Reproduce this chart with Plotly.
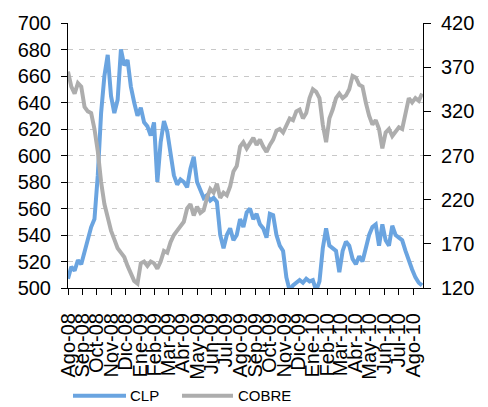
import pandas as pd
import plotly.graph_objects as go

# Weekly observations (Friday), Aug-2008 .. Aug-2010
dates = pd.date_range("2008-08-01", periods=108, freq="7D")

clp = [507, 516, 513, 521, 518, 528, 535, 546, 552, 585,
       632, 660, 676, 645, 632, 642, 680, 668, 672, 652,
       640, 630, 636, 625, 622, 615, 625, 580, 610, 626,
       618, 600, 585, 578, 582, 580, 576, 590, 599, 580,
       574, 568, 570, 566, 568, 565, 540, 530, 540, 545,
       536, 540, 552, 546, 557, 560, 552, 556, 548, 545,
       538, 556, 555, 540, 532, 528, 508, 498, 502, 504,
       506, 504, 507, 505, 506, 498, 505, 530, 545, 532,
       530, 528, 512, 528, 535, 532, 522, 518, 524, 520,
       530, 540, 546, 548, 532, 548, 536, 532, 547, 540,
       538, 536, 528, 520, 514, 508, 504, 502]

cobre = [365, 348, 340, 352, 348, 325, 320, 318, 300, 275,
         240, 215, 200, 185, 175, 165, 160, 155, 145, 135,
         128, 125, 148, 150, 145, 150, 148, 142, 150, 162,
         160, 172, 180, 185, 190, 195, 210, 215, 202, 212,
         205, 208, 222, 232, 228, 238, 222, 228, 225, 235,
         252, 258, 280, 285, 278, 284, 290, 282, 288, 280,
         274, 282, 288, 298, 300, 296, 305, 312, 310, 320,
         322, 312, 318, 335, 345, 342, 335, 305, 285, 312,
         322, 335, 340, 335, 338, 345, 360, 358, 350, 348,
         330, 315, 305, 310, 300, 278, 296, 300, 292, 298,
         302, 300, 320, 335, 330, 335, 332, 340]

month_ticks = pd.date_range("2008-08-01", "2010-08-01", freq="MS")
month_labels = ["Ago-08", "Sep-08", "Oct-08", "Nov-08", "Dic-08",
                "Ene-09", "Feb-09", "Mar-09", "Abr-09", "May-09", "Jun-09", "Jul-09",
                "Ago-09", "Sep-09", "Oct-09", "Nov-09", "Dic-09",
                "Ene-10", "Feb-10", "Mar-10", "Abr-10", "May-10", "Jun-10", "Jul-10",
                "Ago-10"]

series_names = ["CLP", "COBRE"]
BLUE = "#6AA4E0"
GRAY = "#ADADAD"
FONT = "Liberation Sans, Arial, sans-serif"

fig = go.Figure()
fig.add_trace(go.Scatter(x=dates, y=clp, name=series_names[0], mode="lines",
                         line=dict(color=BLUE, width=4), showlegend=False))
fig.add_trace(go.Scatter(x=dates, y=cobre, name=series_names[1], mode="lines",
                         yaxis="y2", line=dict(color=GRAY, width=4), showlegend=False))

axis_common = dict(showline=True, linecolor="black", linewidth=1,
                   ticks="outside", tickcolor="black", tickwidth=1,
                   tickfont=dict(family=FONT, size=20, color="black"),
                   zeroline=False)

fig.update_layout(
    width=488, height=407,
    margin=dict(l=68, r=65, t=20, b=119),
    paper_bgcolor="white", plot_bgcolor="white",
    font=dict(family=FONT, color="black"),
    hovermode=False,
    xaxis=dict(type="date", range=["2008-08-01", "2010-08-22"],
               tickmode="array", tickvals=month_ticks, ticktext=month_labels,
               tickangle=-90, ticklen=6, showgrid=False,
               ticklabelstandoff=10, **axis_common),
    yaxis=dict(range=[500, 700], tick0=500, dtick=20, ticklen=6,
               showgrid=True, gridcolor="#C8C8C8", gridwidth=1, griddash="5px,6px",
               ticklabelstandoff=6, **axis_common),
    yaxis2=dict(range=[120, 420], tick0=120, dtick=50, ticklen=7,
                overlaying="y", side="right", showgrid=False,
                ticklabelstandoff=6, **axis_common),
)

# Legend drawn below the chart
def px_x(px):
    return (px - 68) / 355.0

def px_y(py):
    return (288 - py) / 268.0

legend_items = [(73, 126, 128, BLUE, series_names[0]),
                (182, 233, 236, GRAY, series_names[1])]
for x0, x1, xt, col, name in legend_items:
    fig.add_shape(type="line", xref="paper", yref="paper",
                  x0=px_x(x0), x1=px_x(x1), y0=px_y(397), y1=px_y(397),
                  line=dict(color=col, width=4))
    fig.add_annotation(xref="paper", yref="paper", x=px_x(xt), y=px_y(397),
                       text=name, showarrow=False, xanchor="left", yanchor="middle",
                       font=dict(family=FONT, size=15, color="black"))

fig.write_html("out.html",
               config={"displayModeBar": False, "staticPlot": True},
               post_script="document.body.style.margin='0px';document.body.style.padding='0px';")
